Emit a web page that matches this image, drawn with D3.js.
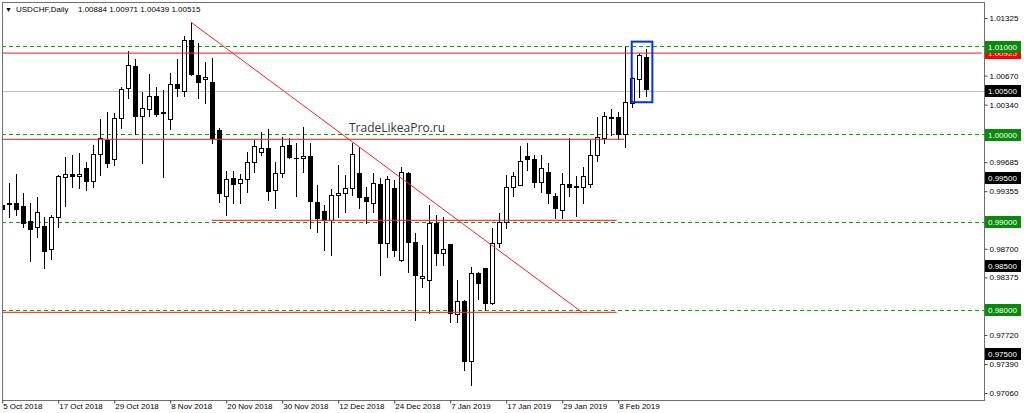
<!DOCTYPE html>
<html><head><meta charset="utf-8">
<script src="https://cdn.jsdelivr.net/npm/d3@7"></script>
<style>
html,body{margin:0;padding:0;background:#fff;}
svg{display:block;}
text{font-family:"Liberation Sans",Arial,sans-serif;}
</style></head><body>
<svg id="c" width="1024" height="413"></svg>
<script>
// ---- data ----
const dates = [
 "5 Oct 2018","8 Oct 2018","9 Oct 2018","10 Oct 2018","11 Oct 2018","12 Oct 2018","15 Oct 2018","16 Oct 2018","17 Oct 2018","18 Oct 2018","19 Oct 2018","22 Oct 2018","23 Oct 2018","24 Oct 2018","25 Oct 2018","26 Oct 2018","29 Oct 2018","30 Oct 2018","31 Oct 2018",
 "1 Nov 2018","2 Nov 2018","5 Nov 2018","6 Nov 2018","7 Nov 2018","8 Nov 2018","9 Nov 2018","12 Nov 2018","13 Nov 2018","14 Nov 2018","15 Nov 2018","16 Nov 2018","19 Nov 2018","20 Nov 2018","21 Nov 2018","22 Nov 2018","23 Nov 2018","26 Nov 2018","27 Nov 2018","28 Nov 2018","29 Nov 2018","30 Nov 2018",
 "3 Dec 2018","4 Dec 2018","5 Dec 2018","6 Dec 2018","7 Dec 2018","10 Dec 2018","11 Dec 2018","12 Dec 2018","13 Dec 2018","14 Dec 2018","17 Dec 2018","18 Dec 2018","19 Dec 2018","20 Dec 2018","21 Dec 2018","24 Dec 2018","26 Dec 2018","27 Dec 2018","28 Dec 2018","31 Dec 2018",
 "2 Jan 2019","3 Jan 2019","4 Jan 2019","7 Jan 2019","8 Jan 2019","9 Jan 2019","10 Jan 2019","11 Jan 2019","14 Jan 2019","15 Jan 2019","16 Jan 2019","17 Jan 2019","18 Jan 2019","21 Jan 2019","22 Jan 2019","23 Jan 2019","24 Jan 2019","25 Jan 2019","28 Jan 2019","29 Jan 2019","30 Jan 2019","31 Jan 2019",
 "1 Feb 2019","4 Feb 2019","5 Feb 2019","6 Feb 2019","7 Feb 2019","8 Feb 2019","11 Feb 2019","12 Feb 2019","13 Feb 2019","14 Feb 2019"
];
const open = [
 0.99200,0.99225,0.99226,0.99188,0.99013,0.98953,0.98960,0.98695,0.99067,0.99514,0.99552,0.99529,0.99624,0.99472,0.99779,0.99938,0.99718,1.00185,1.00526,
 1.00783,1.00215,1.00287,1.00439,1.00253,1.00173,1.00575,1.00495,1.01075,1.00677,1.00628,1.00602,1.00052,0.99302,0.99503,0.99446,0.99491,0.99691,0.99798,0.99844,0.99370,0.99560,
 0.99881,0.99735,0.99730,0.99760,0.99237,0.99134,0.99029,0.99313,0.99332,0.99389,0.99566,0.99287,0.99218,0.99435,0.98764,0.99389,0.98574,0.99563,0.98782,0.98366,
 0.98346,0.98998,0.98657,0.98752,0.97956,0.98108,0.97425,0.98429,0.98479,0.98081,0.98764,0.99009,0.99400,0.99427,0.99756,0.99719,0.99464,0.99578,0.99302,0.99137,0.99435,0.99410,
 0.99400,0.99438,0.99768,0.99957,1.00198,1.00196,1.00006,1.00362,1.00628,1.00884
];
const high = [
 0.99540,0.99446,0.99552,0.99332,0.99226,0.99294,0.99059,0.99086,0.99540,0.99749,0.99768,0.99794,0.99692,0.99881,1.00177,1.00260,1.00249,1.00537,1.00950,
 1.00855,1.00488,1.00685,1.00545,1.00507,1.00696,1.00855,1.01121,1.01280,1.01037,1.00829,1.00867,1.00071,0.99589,0.99589,0.99552,0.99805,0.99938,1.00026,1.00060,0.99691,0.99976,
 0.99957,0.99901,1.00083,0.99901,0.99427,0.99199,0.99378,0.99654,0.99540,0.99901,0.99862,0.99407,0.99560,0.99503,0.99529,0.99483,0.99635,0.99569,0.98881,0.98744,
 0.99199,0.99085,0.99066,0.98760,0.98346,0.98115,0.98491,0.98441,0.98485,0.98934,0.99105,0.99540,0.99578,0.99870,0.99901,0.99768,0.99768,0.99673,0.99332,0.99566,0.99957,0.99529,
 0.99635,0.99938,1.00196,1.00260,1.00287,1.00260,1.00992,1.00658,1.00931,1.00971
];
const low = [
 0.99120,0.99067,0.99085,0.98953,0.98563,0.98839,0.98479,0.98581,0.98953,0.99192,0.99408,0.99389,0.99370,0.99408,0.99540,0.99635,0.99654,1.00071,1.00412,
 1.00007,0.99681,1.00211,1.00211,0.99521,1.00063,1.00442,1.00442,1.00680,1.00412,1.00355,0.99908,0.99237,0.99085,0.99218,0.99218,0.99350,0.99578,0.99768,0.99256,0.99162,0.99514,
 0.99730,0.99302,0.99578,0.98934,0.98896,0.98688,0.98631,0.99066,0.99123,0.99313,0.99162,0.98998,0.99123,0.98403,0.98611,0.98619,0.98562,0.98437,0.97892,0.98270,
 0.97971,0.98517,0.98517,0.97872,0.97872,0.97323,0.97152,0.98127,0.98005,0.98074,0.98725,0.98934,0.99302,0.99420,0.99597,0.99407,0.99350,0.99218,0.99048,0.99048,0.99302,0.99074,
 0.99218,0.99407,0.99699,0.99901,0.99999,0.99946,0.99862,1.00317,1.00424,1.00439
];
const close = [
 0.99150,0.99212,0.99154,0.98998,0.98923,0.99123,0.98680,0.99059,0.99529,0.99552,0.99529,0.99552,0.99476,0.99779,0.99957,0.99681,1.00185,1.00514,1.00791,
 1.00211,1.00298,1.00439,1.00234,1.00249,1.00575,1.00530,1.01075,1.00689,1.00594,1.00651,0.99957,0.99340,0.99491,0.99438,0.99491,0.99691,0.99873,0.99851,0.99362,0.99560,0.99870,
 0.99742,0.99728,0.99760,0.99248,0.99055,0.99029,0.99313,0.99332,0.99396,0.99779,0.99294,0.99248,0.99446,0.98764,0.99495,0.98688,0.99578,0.98778,0.98403,0.98392,
 0.98998,0.98657,0.98695,0.97968,0.98111,0.97425,0.98429,0.98309,0.98081,0.98771,0.99009,0.99400,0.99529,0.99703,0.99719,0.99464,0.99617,0.99332,0.99162,0.99438,0.99407,0.99405,
 0.99532,0.99768,0.99969,1.00211,1.00188,1.00006,1.00374,1.00640,1.00905,1.00515
];
const tickLabels = ["5 Oct 2018","17 Oct 2018","29 Oct 2018","8 Nov 2018","20 Nov 2018","30 Nov 2018","12 Dec 2018","24 Dec 2018","7 Jan 2019","17 Jan 2019","29 Jan 2019","8 Feb 2019"];
const priceTicks = [1.01325,1.00670,1.00340,0.99685,0.99355,0.98700,0.98375,0.98045,0.97720,0.97390,0.97060];
const greenLevels = [1.01000,1.00000,0.99000,0.98000];
const blackLevels = [1.00500,0.99500,0.98500,0.97500];
const redLevel = 1.00925;
const greyLine = 1.00500;
// red horizontal segments: [price, fromBar, toBar]
const redSegments = [[1.00925,-2,140],[0.99944,-2,88.9],[0.99023,30.0,87.85],[0.97977,-2,87.85]];
// trend line: [bar, price]
const trendLine = [[27,1.01280],[82.9,0.97979]];
// highlight box: [bar0, bar1, priceTop, priceBottom]
const highlightBox = [90.0,92.95,1.01056,1.00367];
const titleSymbol = "USDCHF,Daily";
const titleOHLC = "1.00884 1.00971 1.00439 1.00515";
const watermark = "TradeLikeaPro.ru";

// ---- layout ----
const L = 2, R = 984, T = 2, B = 400;
const svg = d3.select("#c");
const x = d3.scaleLinear().domain([0, dates.length - 1]).range([1.7, 645.7]);
const y = d3.scaleLinear().domain([0.97060, 1.01325]).range([393, 18]);

svg.append("rect").attr("width",1024).attr("height",413).attr("fill","#fff");
svg.append("defs").append("clipPath").attr("id","plot")
  .append("rect").attr("x",L+1).attr("y",T+1).attr("width",R-L-1).attr("height",B-T-1);
const plot = svg.append("g").attr("clip-path","url(#plot)");
const py = v => Math.round(y(v)) + 0.5;

// grey level line
plot.append("line").attr("x1",L).attr("x2",R).attr("y1",py(greyLine)).attr("y2",py(greyLine))
  .attr("stroke","#c0c0c0").attr("stroke-width",1);

// green dashed levels
greenLevels.forEach(v=>{
  const yy = Math.floor(y(v)) + 0.5;
  plot.append("path").attr("d",`M${L},${yy}H${R}`)
    .attr("fill","none").attr("stroke","rgb(0,170,0)").attr("stroke-width",1).attr("stroke-dasharray","4 3");
});

// candles
const data = dates.map((d,i)=>({i, o:open[i], h:high[i], l:low[i], c:close[i]}));
const cg = plot.append("g");
data.forEach(d=>{
  const px = Math.round(x(d.i));
  cg.append("line").attr("x1",px+0.5).attr("x2",px+0.5)
    .attr("y1",Math.round(y(d.h))).attr("y2",Math.round(y(d.l))+1)
    .attr("stroke","#000").attr("stroke-width",1);
  const top = py(Math.max(d.o,d.c)), bot = py(Math.min(d.o,d.c));
  const up = d.c >= d.o;
  if (bot - top < 1) {
    cg.append("line").attr("x1",px-2).attr("x2",px+3).attr("y1",top).attr("y2",top)
      .attr("stroke","#000").attr("stroke-width",1);
  } else {
    cg.append("rect").attr("x",px-1.5).attr("y",top).attr("width",4).attr("height",bot-top)
      .attr("fill", up ? "#fff" : "#000").attr("stroke","#000").attr("stroke-width",1);
  }
});

// red segments
redSegments.forEach(([v,b0,b1])=>{
  plot.append("line").attr("x1",Math.max(L,x(b0))).attr("x2",Math.min(R,x(b1)))
    .attr("y1",y(v)).attr("y2",y(v))
    .attr("stroke","#ff2020").attr("stroke-width",1.4).attr("stroke-opacity",0.85);
});
// trend line
plot.append("line").attr("x1",x(trendLine[0][0])).attr("y1",y(trendLine[0][1]))
  .attr("x2",x(trendLine[1][0])).attr("y2",y(trendLine[1][1]))
  .attr("stroke","#ff2020").attr("stroke-width",1);
// highlight box
plot.append("rect").attr("x",x(highlightBox[0])).attr("y",y(highlightBox[2]))
  .attr("width",x(highlightBox[1])-x(highlightBox[0])).attr("height",y(highlightBox[3])-y(highlightBox[2]))
  .attr("fill","none").attr("stroke","#0030ff").attr("stroke-width",2);

// watermark
svg.append("text").attr("x",349).attr("y",132).attr("font-size",12)
  .attr("fill","#333").style("font-family","'Open Sans',sans-serif").text(watermark);

// frame
svg.append("rect").attr("x",L+0.5).attr("y",T+0.5).attr("width",R-L).attr("height",B-T)
  .attr("fill","none").attr("stroke","#707070").attr("stroke-width",1);

// title
svg.append("text").attr("x",5).attr("y",12).attr("font-size",7).attr("fill","#000").text("\u25BC");
svg.append("text").attr("x",16).attr("y",12).attr("font-size",8).attr("fill","#000").text(titleSymbol);
svg.append("text").attr("x",78).attr("y",12).attr("font-size",8).attr("fill","#000")
  .attr("xml:space","preserve").text(titleOHLC);

// right axis
const ax = svg.append("g").attr("transform",`translate(${R+0.5},0)`)
  .call(d3.axisRight(y).tickValues(priceTicks).tickFormat(d3.format(".5f")).tickSize(3).tickPadding(2));
ax.select(".domain").remove();
ax.selectAll(".tick line").attr("stroke","#444");
ax.selectAll(".tick text").attr("font-size",8).attr("fill","#000").style("font-family","'Liberation Sans',Arial,sans-serif");

// bottom axis
const tickIdx = tickLabels.map(t=>dates.indexOf(t));
const bx = svg.append("g").attr("transform",`translate(0,${B+0.5})`)
  .call(d3.axisBottom(x).tickValues(tickIdx).tickFormat(i=>dates[i]).tickSize(3).tickPadding(0));
bx.select(".domain").remove();
bx.selectAll(".tick line").attr("stroke","#444").attr("transform","translate(0.5,0)");
bx.selectAll(".tick text").attr("font-size",8).attr("fill","#000").attr("text-anchor","start")
  .attr("dx",1).style("font-family","'Liberation Sans',Arial,sans-serif");

// level labels on the right axis
function levelLabel(v, bg, fg){
  const cy = Math.round(y(v));
  const g = svg.append("g");
  g.append("rect").attr("x",R+1).attr("y",cy-6).attr("width",36).attr("height",12).attr("fill",bg);
  g.append("text").attr("x",R+4).attr("y",cy+3).attr("font-size",8).attr("fill",fg).text(d3.format(".5f")(v));
}
levelLabel(redLevel, "#ff0000", "#ffe0e0");
blackLevels.forEach(v=>levelLabel(v,"#000","#fff"));
greenLevels.forEach(v=>levelLabel(v,"#0a8a0a","#fff"));
</script>
</body></html>
